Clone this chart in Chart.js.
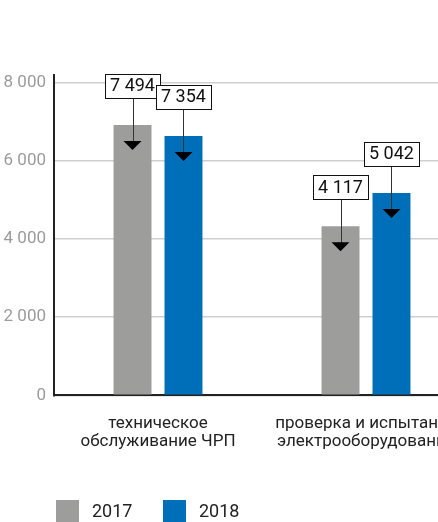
<!DOCTYPE html>
<html lang="ru">
<head>
<meta charset="utf-8">
<title>chart</title>
<script src="https://cdn.jsdelivr.net/npm/chart.js@4.4.1/dist/chart.umd.min.js"></script>
<style>
  html, body { margin: 0; padding: 0; background: #fff; overflow: hidden; }
  #wrap { width: 480px; height: 522px; }
</style>
</head>
<body>
<div id="wrap"><canvas id="myChart" width="480" height="522"></canvas></div>
<script>
const categories = [
  ['техническое', 'обслуживание ЧРП'],
  ['проверка и испытание', 'электрооборудования'],
];
const years = ['2017', '2018'];
// bar heights as drawn
const values2017 = [6920, 4330];
const values2018 = [6640, 5180];
// numbers in the callout boxes
const callouts2017 = [7494, 4117];
const callouts2018 = [7354, 5042];
const yTicks = [0, 2000, 4000, 6000, 8000];

const FONT = 'Roboto, "Open Sans", sans-serif';

function fmt(v) {
  return String(v).replace(/\B(?=(\d{3})+(?!\d))/g, ' ');
}

// callout box + arrow over every bar
const calloutPlugin = {
  id: 'callouts',
  afterDatasetsDraw(chart) {
    const ctx = chart.ctx;
    ctx.save();
    ctx.font = '18px ' + FONT;
    chart.data.datasets.forEach((ds, i) => {
      chart.getDatasetMeta(i).data.forEach((bar, j) => {
        const text = fmt(ds.callouts[j]);
        const x = bar.x;
        const boxBottom = bar.y - 27;
        const tip = bar.y + 25;
        const w = Math.max(ctx.measureText(text).width + 10, 50);
        const h = 24;

        ctx.strokeStyle = '#333';
        ctx.lineWidth = 1;
        ctx.beginPath();
        ctx.moveTo(Math.round(x) + 0.5, boxBottom);
        ctx.lineTo(Math.round(x) + 0.5, tip - 6);
        ctx.stroke();

        ctx.fillStyle = '#000';
        ctx.beginPath();
        ctx.moveTo(x - 9, tip - 9);
        ctx.lineTo(x + 9, tip - 9);
        ctx.lineTo(x, tip);
        ctx.closePath();
        ctx.fill();

        ctx.fillStyle = '#fff';
        ctx.fillRect(x - w / 2, boxBottom - h, w, h);
        ctx.strokeStyle = '#111';
        ctx.strokeRect(Math.round(x - w / 2) + 0.5, Math.round(boxBottom - h) + 0.5, Math.round(w), h);

        ctx.fillStyle = '#111';
        ctx.textAlign = 'center';
        ctx.textBaseline = 'middle';
        ctx.fillText(text, x, boxBottom - h / 2 + 1);
      });
    });
    ctx.restore();
  },
};

// legend squares at the bottom
const legendPlugin = {
  id: 'squareLegend',
  afterDraw(chart) {
    const ctx = chart.ctx;
    ctx.save();
    ctx.font = '18px ' + FONT;
    ctx.textBaseline = 'middle';
    ctx.textAlign = 'left';
    let x = 56;
    chart.data.datasets.forEach((ds) => {
      ctx.fillStyle = ds.backgroundColor;
      ctx.fillRect(x, 500, 23, 22);
      ctx.fillStyle = '#222';
      ctx.fillText(ds.label, x + 36, 512);
      x += 107;
    });
    ctx.restore();
  },
};

const ctx = document.getElementById('myChart').getContext('2d');

// eslint-disable-next-line
const chart = new Chart(ctx, {
  type: 'bar',
  data: {
    labels: categories,
    datasets: [
      {
        label: years[0],
        backgroundColor: '#9d9d9c',
        data: values2017,
        callouts: callouts2017,
      },
      {
        label: years[1],
        backgroundColor: '#006fb9',
        data: values2018,
        callouts: callouts2018,
      },
    ],
  },
  options: {
    responsive: false,
    animation: false,
    devicePixelRatio: 1,
    categoryPercentage: 0.49,
    barPercentage: 0.745,
    layout: { padding: { top: 75, right: 10, bottom: 59, left: 0 } },
    plugins: {
      legend: { display: false },
      tooltip: { enabled: false },
    },
    scales: {
      x: {
        grid: { display: false },
        border: { display: true, color: '#222', width: 2 },
        ticks: {
          color: '#222',
          padding: 12,
          font: { family: FONT, size: 17, lineHeight: 1.05 },
          maxRotation: 0,
          autoSkip: false,
        },
      },
      y: {
        min: 0,
        max: 8200,
        afterFit(scale) { scale.width = 54; },
        afterBuildTicks(scale) {
          scale.ticks = yTicks.map((v) => ({ value: v }));
        },
        grid: { color: '#cfcfcf', lineWidth: 1.5, drawTicks: false },
        border: { display: true, color: '#222', width: 2 },
        ticks: {
          color: '#9b9b9b',
          padding: 8,
          font: { family: FONT, size: 17 },
          callback: (v) => fmt(v),
        },
      },
    },
  },
  plugins: [calloutPlugin, legendPlugin],
});
</script>
</body>
</html>
